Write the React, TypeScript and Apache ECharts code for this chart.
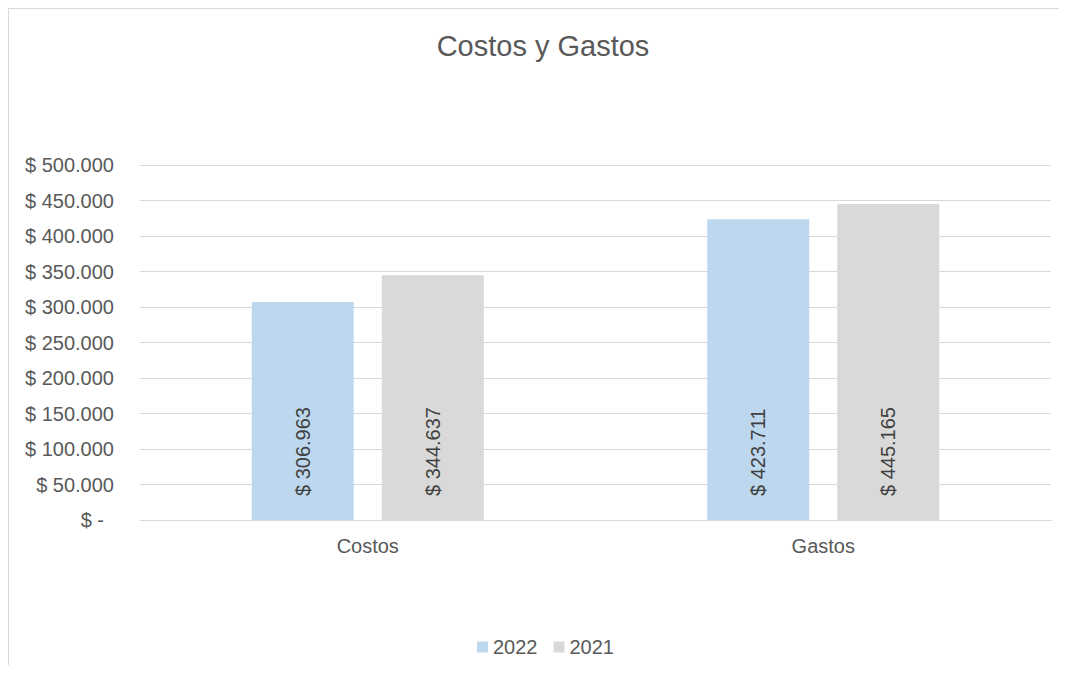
import React, { useEffect, useRef } from "react";
import * as echarts from "echarts";

const categories = ["Costos", "Gastos"];
const series2022 = [306963, 423711];
const series2021 = [344637, 445165];
const seriesNames = ["2022", "2021"];
const chartTitle = "Costos y Gastos";

const fmt = (v: number) => {
  const s = Math.round(v).toString().replace(/\B(?=(\d{3})+(?!\d))/g, ".");
  return "$ " + s;
};

export default function App() {
  const ref = useRef<HTMLDivElement>(null);
  useEffect(() => {
    if (!ref.current) return;
    const chart = echarts.init(ref.current, undefined, { renderer: "svg" });
    const font = "'Liberation Sans', Arial, sans-serif";
    const barLabel = {
      show: true,
      position: "insideBottom",
      rotate: 90,
      align: "left",
      verticalAlign: "middle",
      distance: 24,
      fontSize: 20,
      fontFamily: font,
      color: "#404040",
      formatter: (p: any) => fmt(p.value),
    };
    chart.setOption({
      animation: false,
      textStyle: { fontFamily: font },
      title: {
        text: chartTitle,
        left: 529,
        top: 17,
        textAlign: "center",
        textStyle: { fontSize: 29, fontWeight: "normal", color: "#595959", fontFamily: font },
      },
      legend: {
        data: seriesNames,
        top: 623,
        left: 463,
        itemWidth: 11,
        itemHeight: 11,
        itemGap: 16,
        icon: "rect",
        textStyle: { fontSize: 20, color: "#595959", fontFamily: font },
      },
      grid: { left: 131, right: 16, top: 156, height: 355, containLabel: false },
      xAxis: {
        type: "category",
        data: categories,
        axisLine: { lineStyle: { color: "#d9d9d9", width: 1 } },
        axisTick: { show: false },
        axisLabel: { fontSize: 20, color: "#595959", margin: 16, fontFamily: font },
      },
      yAxis: {
        type: "value",
        min: 0,
        max: 500000,
        interval: 50000,
        axisLine: { show: false },
        axisTick: { show: false },
        splitLine: { lineStyle: { color: "#d9d9d9", width: 1 } },
        axisLabel: {
          fontSize: 20,
          color: "#595959",
          margin: 26,
          fontFamily: font,
          formatter: (v: number) => (v === 0 ? "{z|$ -}" : fmt(v)),
          rich: { z: { fontSize: 20, color: "#595959", padding: [0, 10, 0, 0], fontFamily: font } },
        },
      },
      series: [
        {
          name: seriesNames[0],
          type: "bar",
          data: series2022,
          barWidth: 102,
          barGap: "27.5%",
          itemStyle: { color: "#BDD7EE" },
          label: barLabel,
        },
        {
          name: seriesNames[1],
          type: "bar",
          data: series2021,
          barWidth: 102,
          barGap: "27.5%",
          itemStyle: { color: "#D9D9D9" },
          label: barLabel,
        },
      ],
    });
    return () => chart.dispose();
  }, []);
  return (
    <div
      ref={ref}
      style={{
        width: 1059,
        height: 657,
        borderLeft: "1px solid #d9d9d9",
        borderTop: "1px solid #d9d9d9",
        boxSizing: "border-box",
      }}
    />
  );
}
